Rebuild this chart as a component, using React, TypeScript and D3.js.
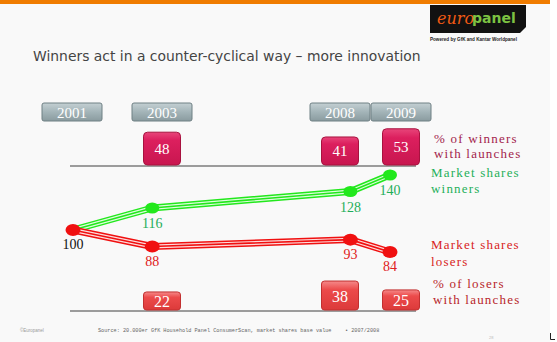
import * as d3 from "d3";
import React from "react";

// values
const years = [2001, 2003, 2008, 2009];
const winnersShare = [100, 116, 128, 140];
const losersShare = [100, 88, 93, 84];
const launchYears = [2003, 2008, 2009];
const winnersLaunch = [48, 41, 53];
const losersLaunch = [22, 38, 25];

const W = 557;
const H = 342;

// line chart scales
const x = d3.scaleLinear().domain([2001, 2009]).range([73, 390]);
const y = d3.scaleLinear().domain([84, 140]).range([252, 175]);
// the boxes are not evenly spread on the slide
const xBox = d3.scaleLinear().domain(years).range([72, 162, 340, 401]);
const hBox = d3.scaleLinear().domain([0, 60]).range([0, 41]);

const line = d3
  .line<number>()
  .x((_, i) => x(years[i]))
  .y(d => y(d));

const serif = "'Liberation Serif', 'DejaVu Serif', serif";

function Stripe({ values, color }: { values: number[]; color: string }) {
  const d = line(values) || "";
  return (
    <g fill="none" strokeLinejoin="round" strokeLinecap="round">
      <path d={d} stroke={color} strokeWidth={7} />
      <path d={d} stroke="#fff" strokeWidth={4} opacity={0.85} />
      <path d={d} stroke={color} strokeWidth={1.6} />
    </g>
  );
}

export default function App() {
  const winBase = 166;
  const loseBase = 311;
  return (
    <svg width={W} height={H} style={{ position: "absolute", left: 0, top: 0 }}>
      <defs>
        <linearGradient id="yearG" x1="0" y1="0" x2="0" y2="1">
          <stop offset="0" stopColor="#c4d0d3" />
          <stop offset="0.5" stopColor="#a3b4b8" />
          <stop offset="1" stopColor="#8a9b9f" />
        </linearGradient>
        <linearGradient id="winG" x1="0" y1="0" x2="0" y2="1">
          <stop offset="0" stopColor="#e8457a" />
          <stop offset="0.25" stopColor="#dc1f5e" />
          <stop offset="1" stopColor="#c8164f" />
        </linearGradient>
        <linearGradient id="loseG" x1="0" y1="0" x2="0" y2="1">
          <stop offset="0" stopColor="#f58a8a" />
          <stop offset="0.3" stopColor="#ec4b4b" />
          <stop offset="1" stopColor="#dc3a3a" />
        </linearGradient>
      </defs>
      <rect width={W} height={H} fill="#fff" />
      <rect width={550} height={H} fill="#f9f9f9" />
      <rect width={550} height={4} fill="#f07c00" />

      {/* logo */}
      <path d="M430,5 H526 V27 L520,33 H430 Z" fill="#111" />
      <text x={437} y={24} fontFamily="'DejaVu Serif', serif" fontSize={16} fontStyle="italic" fill="#f05a14">
        euro
      </text>
      <text x={472} y={23} fontFamily="'DejaVu Sans', sans-serif" fontSize={14} fontWeight="bold" fill="#7cc242">
        panel
      </text>
      <text x={430} y={41} fontFamily="'Liberation Sans', sans-serif" fontSize={4.6} fontWeight="bold" fill="#222">
        Powered by GfK and Kantar Worldpanel
      </text>

      {/* title */}
      <text x={33} y={61} fontFamily="'DejaVu Sans', sans-serif" fontSize={13.9} fill="#444">
        Winners act in a counter-cyclical way – more innovation
      </text>

      {/* year tabs */}
      {years.map(yr => (
        <g key={yr}>
          <rect x={xBox(yr) - 30} y={103} width={60} height={18} rx={2} fill="url(#yearG)" stroke="#6f8084" strokeWidth={1} />
          <text x={xBox(yr)} y={118} textAnchor="middle" fontFamily={serif} fontSize={15} fill="#fff">
            {yr}
          </text>
        </g>
      ))}

      {/* winners launches */}
      <line x1={70} x2={416} y1={winBase} y2={winBase} stroke="#9c9c9c" strokeWidth={2} />
      {launchYears.map((yr, i) => {
        const h = hBox(winnersLaunch[i]);
        return (
          <g key={yr}>
            <rect x={xBox(yr) - 18.5} y={winBase - 1 - h} width={37} height={h} rx={4} fill="url(#winG)" stroke="#a8123f" strokeWidth={1} />
            <text x={xBox(yr)} y={winBase - 1 - h / 2 + 5} textAnchor="middle" fontFamily={serif} fontSize={15} fill="#fff">
              {winnersLaunch[i]}
            </text>
          </g>
        );
      })}

      {/* losers launches */}
      <line x1={70} x2={416} y1={loseBase} y2={loseBase} stroke="#9c9c9c" strokeWidth={2} />
      {launchYears.map((yr, i) => {
        const h = hBox(losersLaunch[i]) + 3;
        return (
          <g key={yr}>
            <rect x={xBox(yr) - 18.5} y={loseBase - 1 - h} width={37} height={h} rx={3} fill="url(#loseG)" stroke="#c23030" strokeWidth={1} />
            <text x={xBox(yr)} y={loseBase - 1 - h / 2 + 6} textAnchor="middle" fontFamily={serif} fontSize={16} fill="#fff">
              {losersLaunch[i]}
            </text>
          </g>
        );
      })}

      {/* market share lines */}
      <Stripe values={winnersShare} color="#22e81c" />
      <Stripe values={losersShare} color="#f01010" />
      {winnersShare.slice(1).map((v, i) => (
        <g key={"w" + i}>
          <ellipse cx={x(years[i + 1])} cy={y(v)} rx={7} ry={5.5} fill="#22e81c" />
          <text x={x(years[i + 1])} y={y(v) + 20} textAnchor="middle" fontFamily={serif} fontSize={14} fill="#1fae5a">
            {v}
          </text>
        </g>
      ))}
      {losersShare.map((v, i) => (
        <g key={"l" + i}>
          <ellipse cx={x(years[i])} cy={y(v)} rx={7.5} ry={6} fill="#f01010" />
          <text x={x(years[i])} y={y(v) + 19} textAnchor="middle" fontFamily={serif} fontSize={14} fill={i === 0 ? "#111" : "#e02020"}>
            {v}
          </text>
        </g>
      ))}

      {/* right side legend */}
      <g fontFamily={serif} fontSize={13} letterSpacing={1.2}>
        <text x={434} y={143} fill="#a3244c">% of winners</text>
        <text x={434} y={158} fill="#a3244c">with launches</text>
        <text x={431} y={177} fill="#1fb05a">Market shares</text>
        <text x={431} y={193} fill="#1fb05a">winners</text>
        <text x={431} y={249} fill="#d82222">Market shares</text>
        <text x={431} y={266} fill="#d82222">losers</text>
        <text x={433} y={288} fill="#b81f2a">% of losers</text>
        <text x={433} y={304} fill="#b81f2a">with launches</text>
      </g>

      {/* footer */}
      <text x={20} y={332} fontFamily="'Liberation Sans', sans-serif" fontSize={4.5} fill="#999">
        ©Europanel
      </text>
      <text x={98} y={332} fontFamily="'Liberation Mono', monospace" fontSize={5.2} fill="#666">
        Source: 20.000er GfK Household Panel ConsumerScan, market shares base value
      </text>
      <text x={345} y={332} fontFamily="'Liberation Mono', monospace" fontSize={5.2} fill="#666">
        • 2007/2008
      </text>
      <text x={489} y={339} fontFamily="'Liberation Sans', sans-serif" fontSize={4} fill="#bbb">
        28
      </text>
      <path d="M550.5,333 V339.5 H555" fill="none" stroke="#222" strokeWidth={1} />
    </svg>
  );
}
